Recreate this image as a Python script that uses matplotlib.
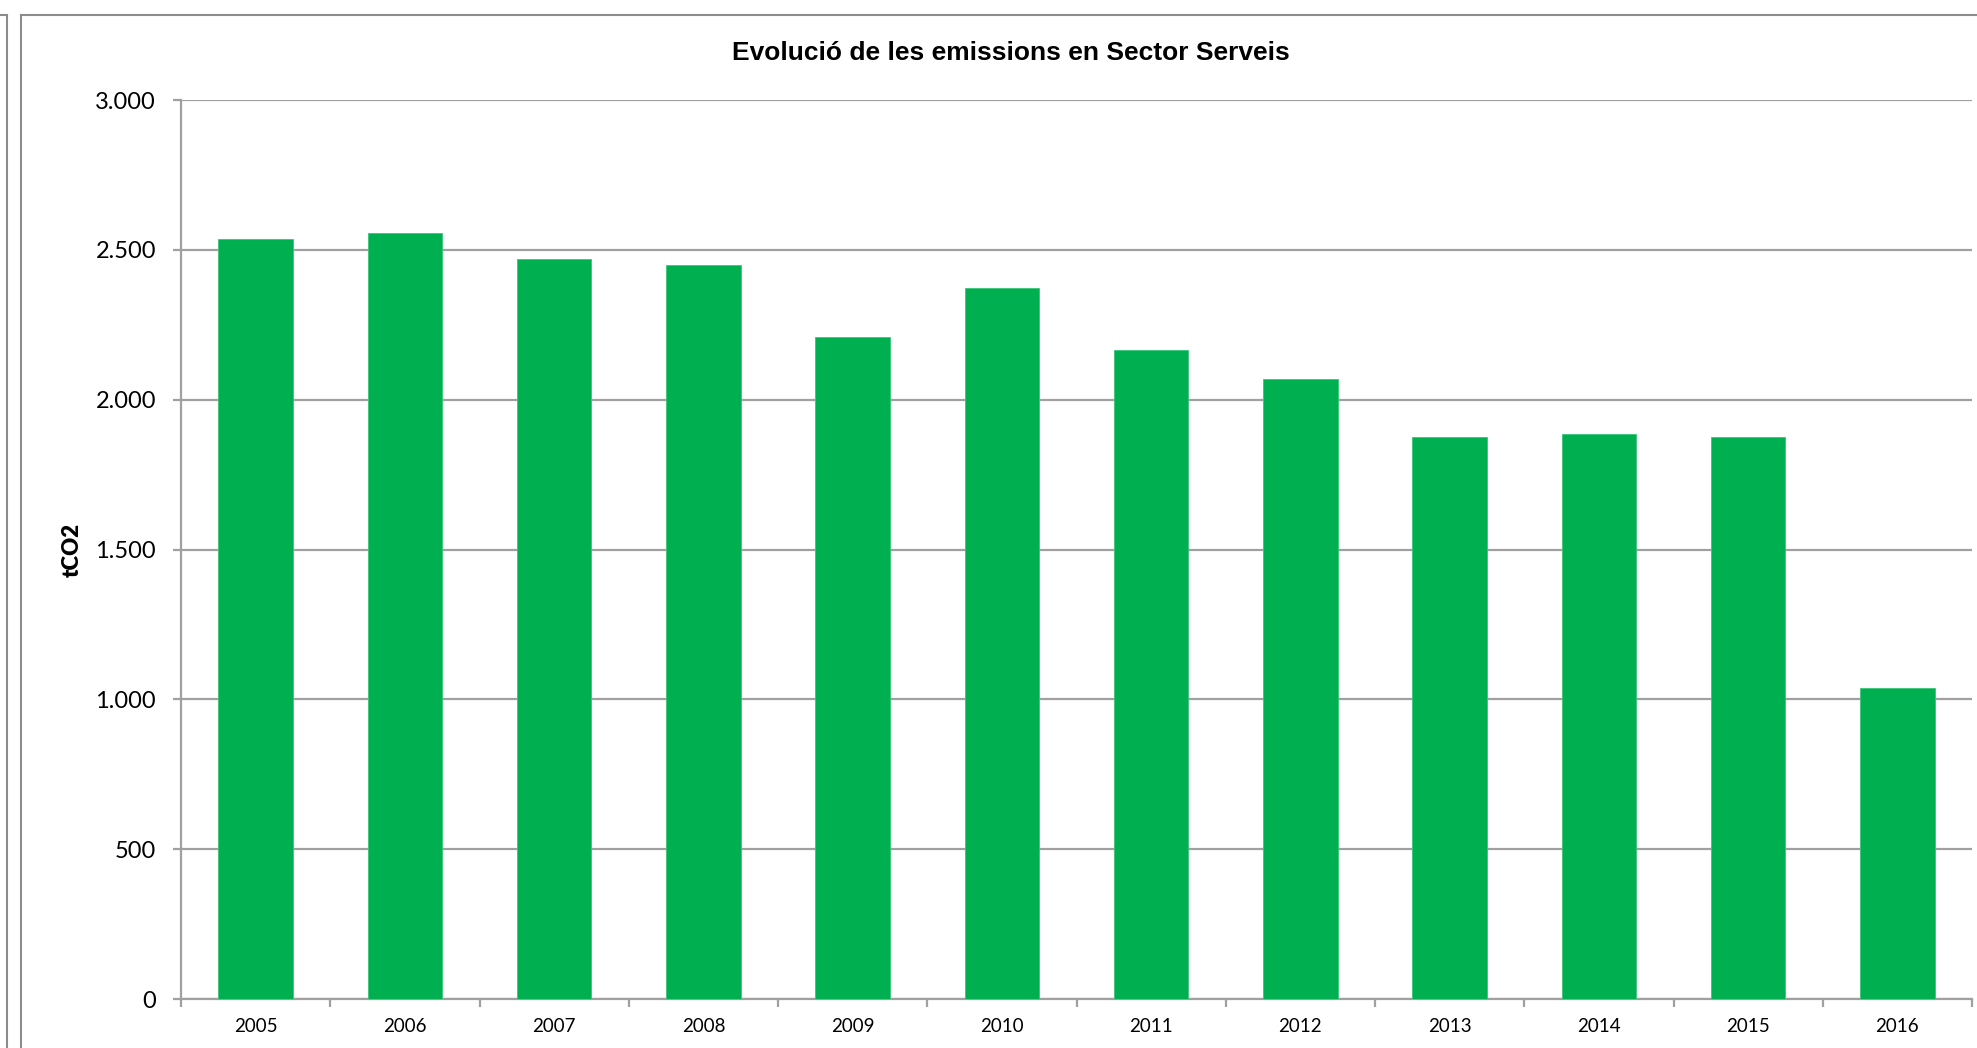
import matplotlib as mpl
import matplotlib.pyplot as plt
from matplotlib.lines import Line2D
from matplotlib.ticker import FuncFormatter, FixedLocator

mpl.rcParams['font.family'] = ['Lato', 'DejaVu Sans']

years = ['2005', '2006', '2007', '2008', '2009', '2010',
         '2011', '2012', '2013', '2014', '2015', '2016']
emissions = [2535, 2556, 2471, 2449, 2208, 2371, 2165, 2068, 1874, 1887, 1874, 1037]
yticks = [0, 500, 1000, 1500, 2000, 2500, 3000]

title = "Evolució de les emissions en Sector Serveis"
ylabel = "tCO2"
green = '#00B050'
grid_col = '#a0a0a0'

W, H = 1977, 1048
fig = plt.figure(figsize=(W / 100, H / 100), dpi=100)
ax = fig.add_axes([181 / W, 1 - 999 / H, (1972 - 181) / W, (999 - 100) / H])

x = list(range(len(years)))
ax.bar(x, emissions, width=0.5, color=green, edgecolor='#3cc47a', linewidth=0.6, zorder=3)

ax.set_xlim(-0.5, len(years) - 0.5)
ax.set_ylim(0, 3000)
ax.set_yticks(yticks)
ax.yaxis.set_major_formatter(FuncFormatter(lambda v, p: f"{int(v):,}".replace(',', '.')))
ax.grid(axis='y', color=grid_col, linewidth=1.6, zorder=0)

ax.set_xticks(x)
ax.set_xticklabels(years, fontsize=13.5)
ax.xaxis.set_minor_locator(FixedLocator([i - 0.5 for i in range(len(years) + 1)]))
ax.tick_params(axis='x', which='major', length=0, pad=14)
ax.tick_params(axis='x', which='minor', length=6, width=1.6, color=grid_col, direction='out')
ax.tick_params(axis='y', length=6, width=1.6, color=grid_col, labelsize=17, pad=12)

for s in ['top', 'right']:
    ax.spines[s].set_visible(False)
for s in ['left', 'bottom']:
    ax.spines[s].set_color(grid_col)
    ax.spines[s].set_linewidth(1.6)

fig.text(1011 / W, 1 - 53 / H, title, ha='center', va='center',
         fontsize=19, fontweight='bold', family='Liberation Sans')
fig.text(72 / W, 1 - 550 / H, ylabel, ha='center', va='center', rotation=90,
         fontsize=16, fontweight='heavy')

# chart area frames
frame_col = '#8c8c8c'
fig.add_artist(Line2D([21 / W, 21 / W], [0, 1 - 15 / H], transform=fig.transFigure,
                      color=frame_col, linewidth=1.5))
fig.add_artist(Line2D([21 / W, 1], [1 - 15 / H, 1 - 15 / H], transform=fig.transFigure,
                      color=frame_col, linewidth=1.5))
fig.add_artist(Line2D([7 / W, 7 / W], [0, 1 - 15 / H], transform=fig.transFigure,
                      color=frame_col, linewidth=1.5))
fig.add_artist(Line2D([0, 7 / W], [1 - 15 / H, 1 - 15 / H], transform=fig.transFigure,
                      color=frame_col, linewidth=1.5))

fig.savefig('out.png', dpi=100)
